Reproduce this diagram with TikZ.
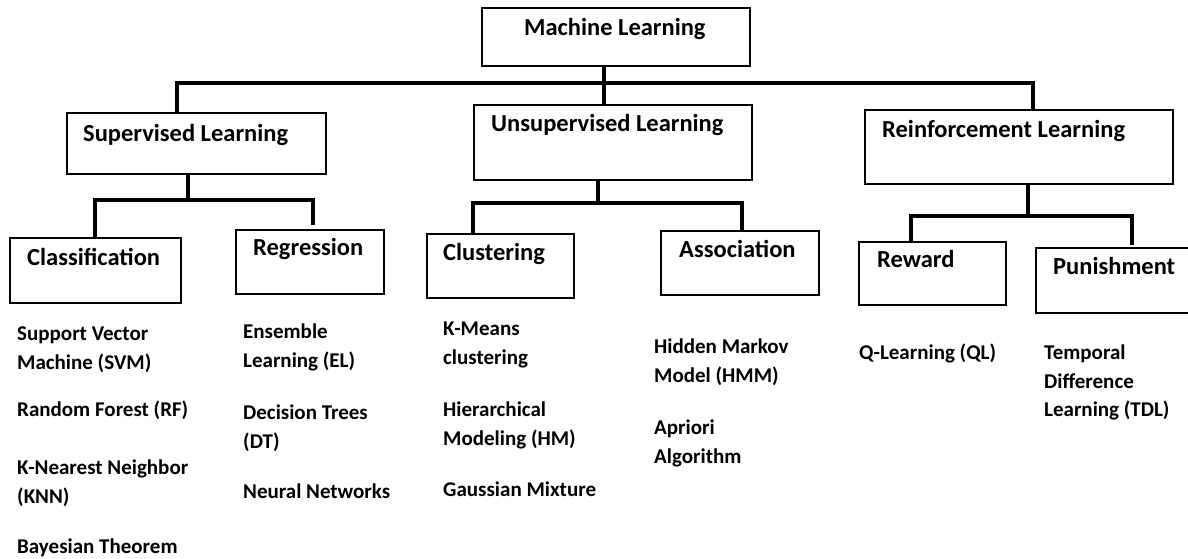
\documentclass[tikz,border=0pt]{standalone}
\usepackage{fontspec}
\setmainfont{Carlito}
\begin{document}
\begin{tikzpicture}[x=1pt,y=-1pt,
  box/.style={draw, line width=2pt, rectangle, inner sep=0pt, anchor=north west},
  title/.style={font=\bfseries\fontsize{24.5}{29}\selectfont, anchor=mid west, inner sep=0pt},
  item/.style={font=\bfseries\fontsize{21}{28.5}\selectfont, anchor=north west, align=left, inner sep=0pt},
  conn/.style={line width=3.2pt, line join=miter}
]
\useasboundingbox (0,0) rectangle (1188,559);

% category boxes
\node[box, minimum width=268pt, minimum height=58pt] (ml)     at (481,7)   {};
\node[box, minimum width=259pt, minimum height=61pt] (sup)    at (66,112)  {};
\node[box, minimum width=278pt, minimum height=75pt] (unsup)  at (473,104) {};
\node[box, minimum width=308pt, minimum height=74pt] (reinf)  at (864,109) {};
\node[box, minimum width=171pt, minimum height=65pt] (class)  at (9,237)   {};
\node[box, minimum width=148pt, minimum height=64pt] (regr)   at (235,229) {};
\node[box, minimum width=147pt, minimum height=64pt] (clust)  at (426,233) {};
\node[box, minimum width=158pt, minimum height=64pt] (assoc)  at (660,230) {};
\node[box, minimum width=147pt, minimum height=63pt] (reward) at (858,241) {};
\node[box, minimum width=160pt, minimum height=65pt] (punish) at (1035,247) {};

% box titles
\node[title] (mlT)     at (524,33)  {Machine Learning};
\node[title] (supT)    at (83,139)  {Supervised Learning};
\node[title] (unsupT)  at (491,129) {Unsupervised Learning};
\node[title] (reinfT)  at (882,135) {Reinforcement Learning};
\node[title] (classT)  at (27,263)  {Classification};
\node[title] (regrT)   at (253,253) {Regression};
\node[title] (clustT)  at (443,258) {Clustering};
\node[title] (assocT)  at (679,255) {Association};
\node[title] (rewardT) at (877,265) {Reward};
\node[title] (punishT) at (1053,272) {Punishment};

% algorithms under each leaf
\node[item] (svm)  at (17,327)  {Support Vector\\Machine (SVM)};
\node[item] (rf)   at (17,401)  {Random Forest (RF)};
\node[item] (knn)  at (17,460)  {K-Nearest Neighbor\\(KNN)};
\node[item] (bay)  at (17,539)  {Bayesian Theorem};
\node[item] (el)   at (243,324) {Ensemble\\Learning (EL)};
\node[item] (dt)   at (243,405) {Decision Trees\\(DT)};
\node[item] (nn)   at (243,484) {Neural Networks};
\node[item] (km)   at (443,322) {K-Means\\clustering};
\node[item] (hm)   at (443,402) {Hierarchical\\Modeling (HM)};
\node[item] (gm)   at (443,482) {Gaussian Mixture};
\node[item] (hmm)  at (654,339) {Hidden Markov\\Model (HMM)};
\node[item] (apr)  at (654,420) {Apriori\\Algorithm};
\node[item] (ql)   at (859,344) {Q-Learning (QL)};
\node[item] (tdl)  at (1044,345) {Temporal\\Difference\\Learning (TDL)};

% top-level bus
\coordinate (bM) at (604,83);
\coordinate (bL) at (177,83);
\coordinate (bR) at (1033,83);
\draw[conn] (ml.south -| bM) -- (unsup.north -| bM);
\draw[conn] (sup.north -| bL) |- (bR) -- (reinf.north -| bR);

% supervised branch
\coordinate (sM) at (188,200);
\coordinate (sL) at (95,200);
\coordinate (sR) at (313,200);
\coordinate (sRend) at (313,225);
\draw[conn] (sup.south -| sM) -- (sM);
\draw[conn] (class.north -| sL) |- (sR) -- (sRend);

% unsupervised branch
\coordinate (uM) at (598,203);
\coordinate (uL) at (473,203);
\coordinate (uR) at (742,203);
\draw[conn] (unsup.south -| uM) -- (uM);
\draw[conn] (clust.north -| uL) |- (uR) -- (assoc.north -| uR);

% reinforcement branch
\coordinate (rM) at (1028,216);
\coordinate (rL) at (911,216);
\coordinate (rR) at (1132,216);
\coordinate (rRend) at (1132,245);
\draw[conn] (reinf.south -| rM) -- (rM);
\draw[conn] (reward.north -| rL) |- (rR) -- (rRend);
\end{tikzpicture}
\end{document}
